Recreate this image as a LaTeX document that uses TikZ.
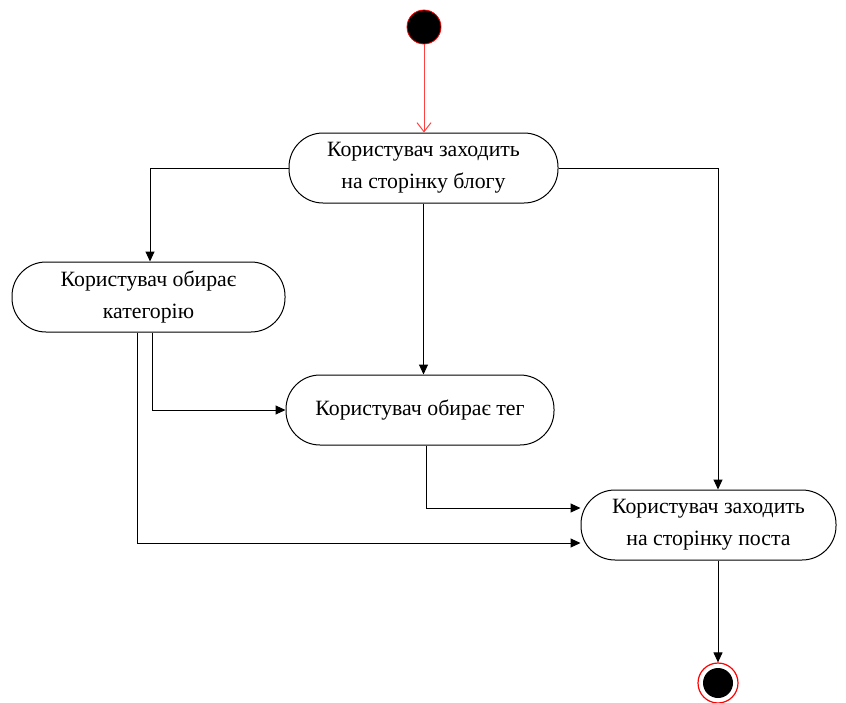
\documentclass[tikz,border=0pt]{standalone}
\usepackage{fontspec}
\setmainfont{Liberation Serif}
\usetikzlibrary{arrows.meta}
\begin{document}
\begin{tikzpicture}[x=1pt,y=-1pt,
  act/.style={draw, line width=1pt, rounded corners=34pt, minimum height=70pt, align=center, inner sep=0pt, font=\fontsize{21.8}{32}\selectfont},
  flow/.style={draw, line width=1pt, -{Triangle[length=10pt,width=9pt]}},
  startflow/.style={draw=red!75, line width=1pt, -{Straight Barb[length=9pt,width=14pt,line width=1pt]}}]
\useasboundingbox (0,0) rectangle (846,702);
\node[circle, fill=black, draw=red, line width=0.8pt, minimum size=34pt, inner sep=0pt] (start) at (424,27) {};
\node[act, minimum width=269pt] (A) at (423.5,168) {Користувач заходить\\на сторінку блогу};
\node[act, minimum width=273pt] (B) at (148.5,297) {Користувач обирає\\категорію};
\node[act, minimum width=268pt] (C) at (420,410) {Користувач обирає тег};
\node[act, minimum width=255pt] (D) at (708.5,525) {Користувач заходить\\на сторінку поста};
\node[circle, draw=red, line width=1.2pt, minimum size=40pt, inner sep=0pt] (end) at (718,683) {};
\node[circle, fill=black, minimum size=30pt, inner sep=0pt] (endin) at (end) {};
\draw[startflow] (start) -- (start |- A.north);
\draw[flow] (A.west) -| ([xshift=1.5pt]B.north);
\draw[flow] (A.south) -- (A.south |- C.north);
\draw[flow] (A.east) -| (end.north |- D.north);
\draw[flow] ([xshift=3.5pt]B.south) |- (C.west);
\draw[flow] ([xshift=-11.5pt]B.south) |- ([yshift=-18pt]D.west);
\draw[flow] ([xshift=6pt]C.south) |- ([yshift=17pt]D.west);
\draw[flow] (end.north |- D.south) -- (end.north);
\end{tikzpicture}
\end{document}
